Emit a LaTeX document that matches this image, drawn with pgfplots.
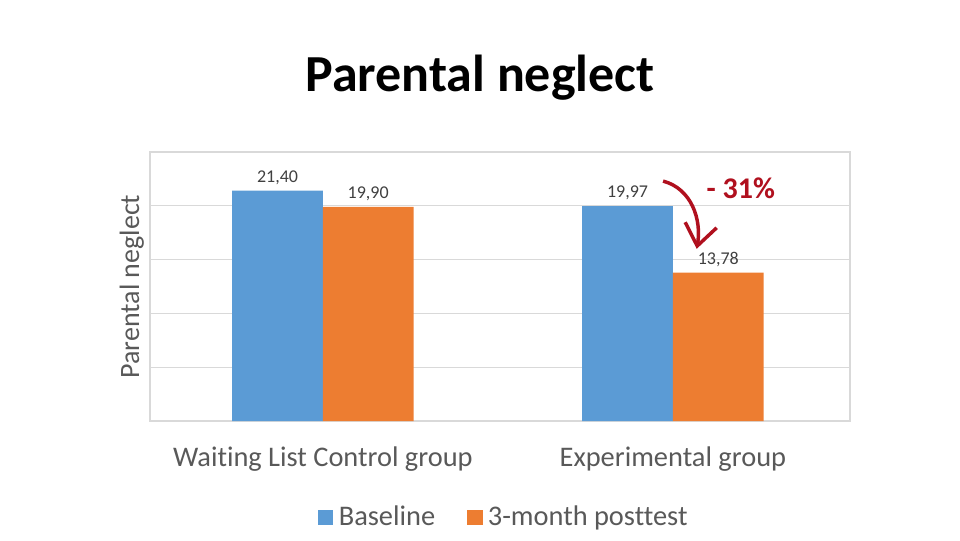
\documentclass[border=0pt]{standalone}
\usepackage{fontspec}
\setmainfont[Ligatures=NoCommon]{Carlito}
\usepackage{pgfplots}
\pgfplotsset{compat=1.18}
\usetikzlibrary{arrows.meta}
\definecolor{cblue}{HTML}{5B9BD5}
\definecolor{corange}{HTML}{ED7D31}
\definecolor{cgrid}{HTML}{D9D9D9}
\definecolor{ctext}{HTML}{595959}
\definecolor{cval}{HTML}{404040}
\definecolor{cred}{HTML}{B0101E}
\begin{document}
\begin{tikzpicture}
\path[use as bounding box] (0,0) rectangle (720pt,405pt);
\node[font=\bfseries\fontsize{39}{42}\selectfont, anchor=center] at (360pt,347pt) {Parental neglect};
\begin{axis}[
  at={(112.5pt,89.25pt)}, anchor=south west,
  scale only axis, width=525pt, height=201.75pt,
  xmin=-0.494, xmax=1.506, ymin=0, ymax=25,
  ybar=0pt, bar width=68pt,
  xtick={0,1}, xticklabels={Waiting List Control group, Experimental group},
  xticklabel style={font=\fontsize{21.3}{23}\selectfont, text=ctext, yshift=-16pt},
  ytick={5,10,15,20}, yticklabels={},
  major tick length=0pt,
  ymajorgrids, grid style={cgrid, line width=1pt},
  axis line style={cgrid, line width=1.2pt},
  ylabel={Parental neglect},
  ylabel style={font=\fontsize{21}{23}\selectfont, text=ctext, at={(rel axis cs:0,0.5)}, anchor=south, yshift=1pt},
  /pgf/number format/assume math mode=true,
  /pgf/number format/use comma, /pgf/number format/fixed, /pgf/number format/fixed zerofill, /pgf/number format/precision=2,
  nodes near coords,
  nodes near coords style={font=\fontsize{13.5}{14}\selectfont, text=cval, yshift=1pt},
  legend style={at={(0.506,-0.357)}, anchor=center, draw=none, legend columns=2,
    font=\fontsize{21.3}{23}\selectfont, text=ctext,
    /tikz/every even column/.append style={column sep=22pt}},
  legend image code/.code={\fill[#1] (-5pt,-6pt) rectangle (6.5pt,5.5pt);},
  clip=false,
]
\addplot[fill=cblue, draw=none] coordinates {(0,21.40) (1,19.97)};
\addplot[fill=corange, draw=none] coordinates {(0,19.90) (1,13.78)};
\legend{\hspace{2pt}Baseline, \hspace{2pt}3-month posttest}
\draw[cred, line width=2.6pt, -{Straight Barb[length=16pt, width=24pt, line width=2.6pt]}]
  (axis cs:0.972,22.3) to[out=-15, in=80] (axis cs:1.068,16.0);
\node[font=\bfseries\fontsize{22.5}{24}\selectfont, text=cred] at (axis cs:1.194,21.6) {- 31\%};
\end{axis}
\end{tikzpicture}
\end{document}
